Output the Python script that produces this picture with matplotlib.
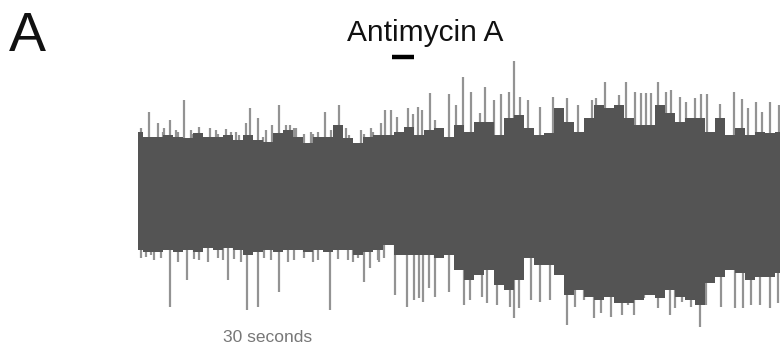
import matplotlib
matplotlib.use("Agg")
import matplotlib.pyplot as plt
import numpy as np

plt.rcParams['font.family'] = ['Liberation Sans', 'DejaVu Sans']

# ---- data (time in s, amplitude in arbitrary units) ----
grid_t = np.arange(0, 325, 5)  # sampling times of the envelope readings
core_top = [60, 55, 55, 57, 55, 54, 59, 55, 55, 57, 52, 57, 52, 50, 59, 62, 55, 49, 55, 55,
            67, 54, 49, 55, 57, 57, 60, 65, 57, 62, 64, 55, 67, 60, 70, 70, 57, 74, 77, 64,
            57, 59, 84, 70, 60, 74, 87, 84, 87, 74, 67, 67, 87, 79, 70, 74, 74, 60, 74, 57,
            64, 57, 60, 59, 60]
core_bottom = [-58, -60, -60, -58, -60, -58, -60, -56, -58, -56, -58, -63, -60, -58, -60, -58,
               -58, -60, -58, -60, -58, -58, -63, -60, -58, -53, -63, -63, -63, -63, -66, -63,
               -78, -88, -83, -78, -93, -98, -88, -66, -73, -73, -83, -103, -98, -105, -108, -105,
               -111, -111, -108, -103, -106, -98, -105, -108, -113, -91, -85, -78, -81, -88, -85,
               -85, -81]

up_spike_t = [1.5, 5.5, 10, 12.5, 13, 16, 19, 20, 23, 26.5, 27.5, 30.5, 36, 39, 40, 44, 46.5,
              49, 50.5, 54, 56, 60, 62.5, 64, 67, 70.5, 74, 76, 78, 79, 83, 86.5, 87.5, 90,
              93.5, 96.5, 100.5, 104, 105.5, 111.5, 113, 116.5, 117.5, 121.5, 123.5, 126, 129,
              134.5, 137, 139.5, 141.5, 145.5, 148, 155, 158.5, 162, 166, 170.5, 173, 177.5, 181,
              185, 187.5, 190.5, 194.5, 200.5, 207, 214, 219.5, 226.5, 228.5, 233, 240, 243.5,
              248, 251, 253.5, 255.5, 259, 263, 265.5, 270, 273, 277.5, 280.5, 283.5, 290, 297,
              301, 304, 308, 311, 315, 319.5]
up_spike_a = [64, 80, 69, 60, 64, 72, 62, 60, 92, 62, 58, 65, 64, 62, 58, 63, 60,
              60, 57, 69, 84, 74, 55, 62, 67, 87, 67, 67, 64, 64, 58, 60, 58, 60,
              80, 62, 87, 64, 57, 62, 58, 64, 60, 69, 82, 82, 75,
              84, 78, 85, 82, 99, 72, 98, 87, 115, 100, 79, 105, 92, 98,
              100, 131, 95, 92, 85, 95, 94, 87, 92, 94, 110, 97, 110,
              100, 99, 99, 99, 110, 100, 102, 95, 90, 94, 98, 98, 88, 100,
              93, 84, 90, 80, 90, 87]

low_spike_t = [1.5, 4, 6.5, 8, 11.5, 16, 20, 24.5, 28, 30.5, 35, 40, 42.5, 45, 48, 51.5, 54.5,
               60, 63, 66.5, 70.5, 75, 78, 83, 87.5, 90, 96, 100, 105, 107.5, 110, 113, 116,
               120, 120.5, 123, 128, 134, 137.5, 140, 142, 145, 148, 155, 159, 162.5, 165.5,
               171.5, 174, 179, 185.5, 187.5, 190, 196, 200.5, 205.5, 214, 218, 222.5, 227.5,
               231, 236, 241.5, 244.5, 247.5, 252.5, 259, 265, 267.5, 271, 275.5, 280, 283,
               290.5, 297.5, 301.5, 305.5, 310, 315, 319]
low_spike_a = [-66, -65, -63, -68, -66, -115, -70, -88, -67, -68, -70, -66, -68, -88, -67, -70,
               -118, -115, -66, -68, -100, -70, -68, -66, -70, -68, -118, -67, -68, -70, -66,
               -90, -76, -68, -70, -66, -103, -115, -108, -106, -110, -96, -105, -100, -78,
               -113, -108, -105, -111, -113, -115, -126, -116, -108, -110, -108, -133, -115,
               -108, -126, -121, -125, -123, -113, -123, -106, -116, -123, -116, -110, -115,
               -135, -113, -115, -116, -116, -113, -113, -116, -111]

drug_label = "Antimycin A"
drug_on, drug_off = 126.5, 137.5
scale_label = "30 seconds"

# ---- figure ----
fig = plt.figure(figsize=(7.8, 3.49), dpi=100)
ax = fig.add_axes([0, 0, 1, 1])
ax.set_xlim(-68.5, 320)
ax.set_ylim(-157, 192)
ax.axis('off')

spike_col = '#939393'
core_col = '#545454'

ax.vlines(up_spike_t, 0, up_spike_a, color=spike_col, lw=1.6, zorder=1)
ax.vlines(low_spike_t, 0, low_spike_a, color=spike_col, lw=1.6, zorder=1)
ax.fill_between(grid_t, core_bottom, core_top, step='mid', color=core_col, lw=0, zorder=2)

ax.plot([drug_on, drug_off], [135.5, 135.5], color='black', lw=3.2, solid_capstyle='butt')
ax.text(143.5, 151, drug_label, ha='center', va='baseline', fontsize=21.5, color='#111111')

fig.text(0.012, 0.855, "A", fontsize=40, ha='left', va='baseline', color='#111111')
ax.text(65, -150, scale_label, ha='center', va='baseline', fontsize=12.5, color='#777777')

fig.savefig("out.png", dpi=100, facecolor='white')
